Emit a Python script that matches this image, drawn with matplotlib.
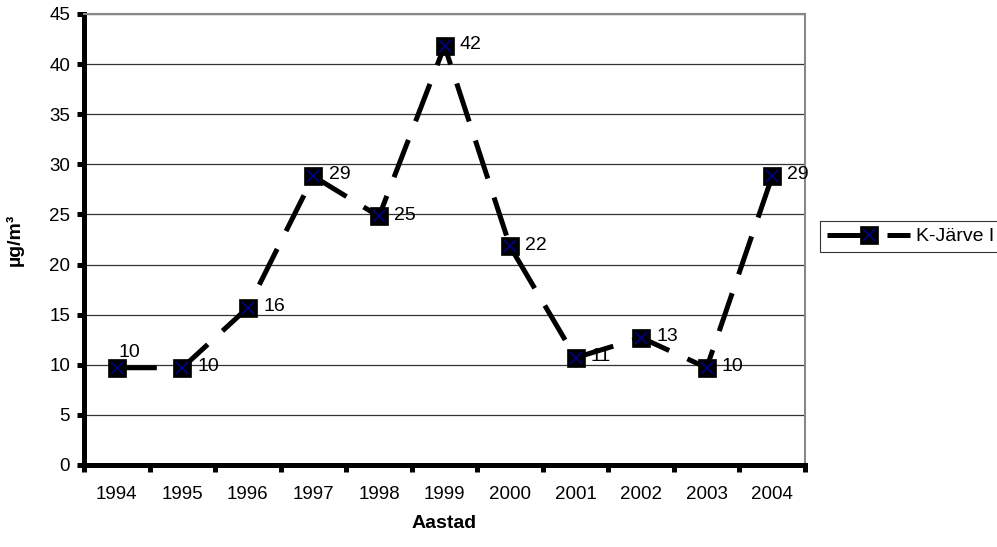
import matplotlib.pyplot as plt
from matplotlib.lines import Line2D
import numpy as np

plt.rcParams['font.family'] = ['Liberation Sans', 'DejaVu Sans']

# data
years = ['1994', '1995', '1996', '1997', '1998', '1999', '2000', '2001', '2002', '2003', '2004']
values = [9.7, 9.7, 15.7, 28.8, 24.8, 41.8, 21.8, 10.7, 12.7, 9.7, 28.8]
series_name = 'K-Järve I'

fig = plt.figure(figsize=(9.97, 5.47), dpi=100)
ax = fig.add_axes([0.0843, 0.15, 0.7231, 0.8245])

line_kw = dict(color='black', lw=3.6, dashes=(8, 4), marker='s', ms=13,
               mfc='black', mec='black', mew=0.5)
cross_kw = dict(ls='none', marker='x', ms=9, mec='#000080', mew=1.3)

x = np.arange(len(years))
ax.plot(x, values, zorder=3, **line_kw)
ax.plot(x, values, zorder=4, **cross_kw)

for i, v in enumerate(values):
    if i == 0:
        ax.annotate('%d' % round(v), (i, v), xytext=(1, 11), textcoords='offset points',
                    ha='left', va='center', fontsize=14)
    else:
        ax.annotate('%d' % round(v), (i, v), xytext=(11, 1), textcoords='offset points',
                    ha='left', va='center', fontsize=14)

ax.set_xlim(-0.5, len(years) - 0.5)
ax.set_ylim(0, 45)
ax.set_yticks(np.arange(0, 46, 5))
ax.set_xticks(x)
ax.set_xticklabels(years)
ax.set_xticks(np.arange(-0.5, len(years), 1.0), minor=True)
ax.tick_params(axis='x', which='major', length=0, pad=15, labelsize=13.5)
ax.tick_params(axis='x', which='minor', length=5, width=3.6, direction='out')
ax.tick_params(axis='y', length=5, width=3.6, direction='out', labelsize=13.5, pad=5)

ax.yaxis.grid(True, color='#333333', lw=0.9)
ax.set_axisbelow(True)
for s in ['left', 'bottom']:
    ax.spines[s].set_linewidth(3.6)
for s in ['top', 'right']:
    ax.spines[s].set_color('#888888')
    ax.spines[s].set_linewidth(1.5)

ax.set_xlabel('Aastad', fontweight='bold', fontsize=14, labelpad=9)
ax.set_ylabel('µg/m³', fontweight='bold', fontsize=14, labelpad=18)

h = (Line2D([], [], **line_kw), Line2D([], [], **cross_kw))
leg = fig.legend([h], [series_name], loc='upper left', bbox_to_anchor=(0.8225, 0.596),
                 borderaxespad=0, fontsize=14, frameon=True, fancybox=False,
                 edgecolor='black', handlelength=4.3, borderpad=0.35, handletextpad=0.3)
leg.get_frame().set_linewidth(0.8)

fig.savefig('out.png', dpi=100)
